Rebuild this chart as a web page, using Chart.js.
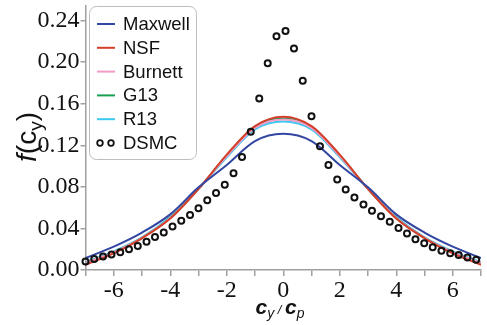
<!DOCTYPE html>
<html>
<head>
<meta charset="utf-8">
<script src="https://cdn.jsdelivr.net/npm/chart.js@4.4.1/dist/chart.umd.min.js"></script>
<style>
  html, body { margin: 0; padding: 0; background: #fff; }
  #wrap { width: 487px; height: 325px; }
</style>
</head>
<body>
<div id="wrap"><canvas id="grafico" width="487" height="325"></canvas></div>
<script>
// valores
const xModelo = [-7, -6, -5, -4, -3, -2, -1, 0, 1, 2, 3, 4, 5, 6, 7];
const maxwell = [0.0115, 0.0225, 0.036, 0.0535, 0.0795, 0.101, 0.124, 0.131, 0.124, 0.101, 0.0795, 0.0535, 0.036, 0.0225, 0.0115];
const nsf     = [0.005, 0.016, 0.0305, 0.0495, 0.078, 0.111, 0.1385, 0.1475, 0.1385, 0.111, 0.078, 0.0495, 0.0305, 0.016, 0.005];
const burnett = [0.0068, 0.0172, 0.031, 0.050, 0.078, 0.1095, 0.1368, 0.1448, 0.1368, 0.1095, 0.078, 0.050, 0.031, 0.0172, 0.0068];
const g13     = [0.0068, 0.0172, 0.031, 0.0502, 0.0782, 0.110, 0.1378, 0.1458, 0.1378, 0.110, 0.0782, 0.0502, 0.031, 0.0172, 0.0068];
const r13     = [0.0075, 0.018, 0.0315, 0.051, 0.078, 0.1085, 0.1352, 0.1428, 0.1352, 0.1085, 0.078, 0.051, 0.0315, 0.018, 0.0075];

const dsmcX = [-7.00, -6.69, -6.38, -6.08, -5.77, -5.46, -5.15, -4.84, -4.54, -4.23, -3.92, -3.61, -3.30, -3.00,
               -2.69, -2.38, -2.07, -1.76, -1.46, -1.15, -0.85, -0.55, -0.24, 0.08, 0.38, 0.69, 1.00, 1.30, 1.60,
               1.91, 2.21, 2.52, 2.84, 3.14, 3.46, 3.77, 4.08, 4.38, 4.68, 4.99, 5.29, 5.60, 5.91, 6.21, 6.52, 6.83];
const dsmcY = [0.0082, 0.0105, 0.013, 0.0148, 0.017, 0.020, 0.0232, 0.0272, 0.0318, 0.036, 0.0418, 0.0475, 0.053, 0.0595,
               0.0672, 0.0742, 0.082, 0.093, 0.1086, 0.133, 0.165, 0.199, 0.225, 0.230, 0.213, 0.182, 0.148, 0.119, 0.101,
               0.087, 0.0775, 0.0697, 0.063, 0.057, 0.0516, 0.0464, 0.0405, 0.035, 0.0297, 0.0257, 0.0219, 0.0186, 0.0162, 0.0145, 0.012, 0.0098];

const nombres = ['Maxwell', 'NSF', 'Burnett', 'G13', 'R13', 'DSMC'];
const colores = ['#3246a2', '#d3402a', '#f39bc6', '#17a052', '#3cc8f0', '#111111'];
const serieModelo = [maxwell, nsf, burnett, g13, r13];

const gris = '#a0a0a0';
const fuenteSerif = '"Liberation Serif", "Times New Roman", serif';
const fuenteSans = '"Liberation Sans", Arial, sans-serif';

const datasets = serieModelo.map((serie, i) => ({
    type: 'line',
    label: nombres[i],
    data: xModelo.map((x, k) => ({ x: x, y: serie[k] })),
    borderColor: colores[i],
    borderWidth: 2,
    pointRadius: 0,
    fill: false,
    cubicInterpolationMode: 'monotone',
    order: 1
}));
datasets.push({
    type: 'scatter',
    label: nombres[5],
    data: dsmcX.map((x, k) => ({ x: x, y: dsmcY[k] })),
    borderColor: colores[5],
    backgroundColor: 'rgba(0,0,0,0)',
    pointStyle: 'circle',
    pointRadius: 3,
    borderWidth: 2,
    clip: false,
    order: 0
});

// leyenda dentro del área, con caja redondeada
const leyendaCaja = {
    id: 'leyendaCaja',
    afterDraw(chart) {
        const ctx = chart.ctx;
        ctx.save();
        ctx.fillStyle = '#fff';
        ctx.strokeStyle = '#bdbdbd';
        ctx.lineWidth = 1;
        ctx.beginPath();
        ctx.roundRect(89.5, 6.5, 107, 153, 7);
        ctx.fill();
        ctx.stroke();
        ctx.font = '18.5px ' + fuenteSans;
        ctx.textBaseline = 'middle';
        chart.data.datasets.forEach((ds, i) => {
            const y = 24 + i * 23.8;
            if (ds.type === 'scatter') {
                ctx.strokeStyle = ds.borderColor;
                ctx.lineWidth = 1.8;
                [100, 111].forEach(cx => {
                    ctx.beginPath();
                    ctx.arc(cx, y, 2.8, 0, Math.PI * 2);
                    ctx.stroke();
                });
            } else {
                ctx.strokeStyle = ds.borderColor;
                ctx.lineWidth = 2;
                ctx.beginPath();
                ctx.moveTo(97, y);
                ctx.lineTo(115, y);
                ctx.stroke();
            }
            ctx.fillStyle = '#111';
            ctx.fillText(ds.label, 123, y + 1);
        });
        ctx.restore();
    }
};

// títulos de ejes con subíndices
function textoPartes(ctx, partes, x, y) {
    let ancho = 0;
    partes.forEach(p => { ctx.font = p.f; ancho += ctx.measureText(p.t).width; });
    let cx = x - ancho / 2;
    partes.forEach(p => {
        ctx.font = p.f;
        ctx.fillText(p.t, cx, y + (p.dy || 0));
        cx += ctx.measureText(p.t).width;
    });
}
const titulosEjes = {
    id: 'titulosEjes',
    afterDraw(chart) {
        const ctx = chart.ctx;
        ctx.save();
        ctx.fillStyle = '#111';
        ctx.textBaseline = 'alphabetic';
        ctx.textAlign = 'left';
        ctx.translate(36, 137);
        ctx.rotate(-Math.PI / 2);
        textoPartes(ctx, [
            { t: 'f', f: 'italic 28px ' + fuenteSans },
            { t: '(c', f: '28px ' + fuenteSans },
            { t: 'y', f: '19px ' + fuenteSans, dy: 6 },
            { t: ')', f: '28px ' + fuenteSans }
        ], 0, 0);
        ctx.restore();
        ctx.save();
        ctx.fillStyle = '#111';
        ctx.textBaseline = 'alphabetic';
        textoPartes(ctx, [
            { t: 'c', f: 'italic bold 21px ' + fuenteSans },
            { t: 'y', f: 'italic 14px ' + fuenteSans, dy: 4 },
            { t: ' / ', f: 'italic 13px ' + fuenteSans },
            { t: 'c', f: 'italic bold 21px ' + fuenteSans },
            { t: 'p', f: 'italic 14px ' + fuenteSans, dy: 4 }
        ], 280, 314);
        ctx.restore();
    }
};

new Chart(document.getElementById('grafico').getContext('2d'), {
    data: { datasets: datasets },
    options: {
        responsive: false,
        animation: false,
        layout: { padding: { top: 3, right: 0, left: 0, bottom: 0 } },
        plugins: { legend: { display: false }, tooltip: { enabled: false } },
        scales: {
            x: {
                type: 'linear',
                min: -7,
                max: 7,
                afterFit: s => { s.height = 55; s.paddingLeft = 0; s.paddingRight = 0; },
                border: { color: gris, width: 1.5 },
                grid: { drawOnChartArea: false, drawTicks: true, tickLength: 6, color: gris, lineWidth: 1.5 },
                ticks: {
                    stepSize: 1,
                    autoSkip: false,
                    maxRotation: 0,
                    padding: 0,
                    color: '#111',
                    font: { family: fuenteSerif, size: 24 },
                    callback: v => (v % 2 === 0 ? String(v) : '')
                }
            },
            y: {
                min: 0,
                max: 0.254,
                afterFit: s => { s.width = 85.5; s.paddingTop = 0; s.paddingBottom = 0; },
                border: { color: gris, width: 1.5 },
                grid: { drawOnChartArea: false, drawTicks: true, tickLength: 5, color: gris, lineWidth: 1.5 },
                ticks: {
                    stepSize: 0.02,
                    includeBounds: false,
                    padding: 1,
                    color: '#111',
                    font: { family: fuenteSerif, size: 24 },
                    callback: v => (Math.round(v * 100) % 4 === 0 ? v.toFixed(2) : '')
                }
            }
        }
    },
    plugins: [leyendaCaja, titulosEjes]
});
</script>
</body>
</html>
